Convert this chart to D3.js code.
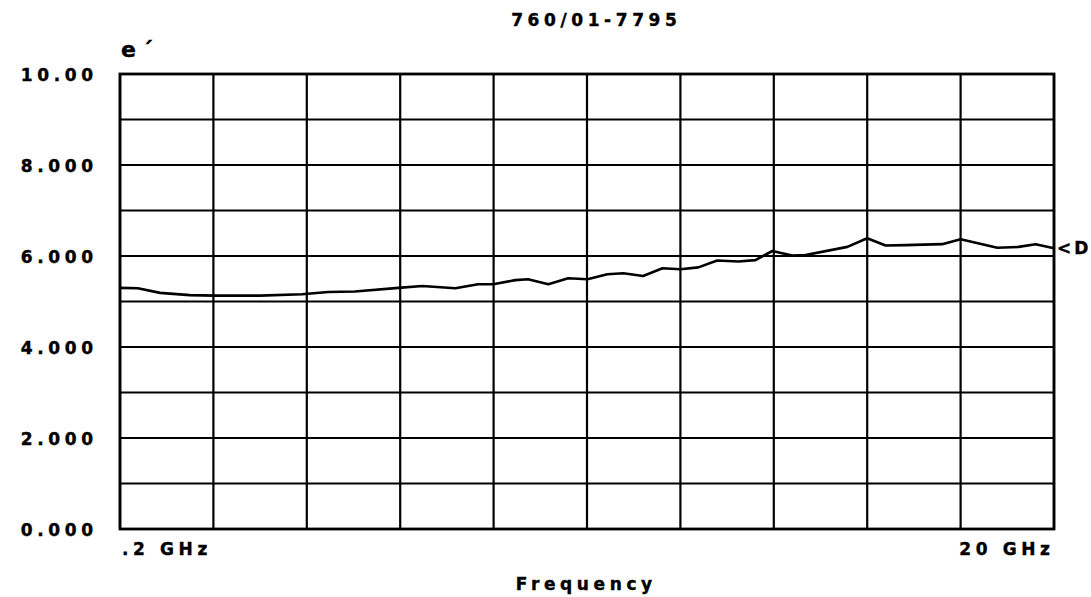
<!DOCTYPE html>
<html>
<head>
<meta charset="utf-8">
<script src="https://cdn.jsdelivr.net/npm/d3@7"></script>
<style>
  body { margin: 0; background: #fff; }
  svg text { font-family: "DejaVu Sans", sans-serif; font-weight: bold; fill: #000; stroke: #000; stroke-width: 0.4px; }
</style>
</head>
<body>
<svg id="chart" width="1091" height="597"></svg>
<script>
// measured trace, e' vs frequency (GHz)
const freqGHz = [0.2, 0.58, 1.05, 1.68, 2.21, 3.17, 4.06, 4.61, 5.18, 6.10, 6.61, 7.31, 7.79, 8.11,
  8.58, 8.85, 9.28, 9.70, 10.11, 10.53, 10.87, 11.29, 11.70, 12.08, 12.46, 12.86, 13.31, 13.67,
  14.03, 14.45, 14.73, 15.62, 16.04, 16.43, 16.85, 17.63, 18.02, 18.80, 19.25, 19.61, 20.0];
const ePrime = [5.30, 5.29, 5.19, 5.14, 5.13, 5.13, 5.16, 5.21, 5.22, 5.30, 5.34, 5.29, 5.38, 5.38,
  5.47, 5.49, 5.38, 5.51, 5.49, 5.60, 5.62, 5.56, 5.73, 5.71, 5.75, 5.90, 5.88, 5.91,
  6.11, 6.01, 6.02, 6.20, 6.39, 6.23, 6.24, 6.26, 6.37, 6.18, 6.20, 6.26, 6.17];
const yTickValues = [0, 2, 4, 6, 8, 10];
const yTickLabels = ["0.000", "2.000", "4.000", "6.000", "8.000", "10.00"];
const xLabels = [".2 GHz", "20 GHz"];
const title = "760/01-7795";
const xTitle = "Frequency";
const yTitle = "e\u00b4";
const markerLabel = "<D";

const svg = d3.select("#chart");
const plot = {left: 120, right: 1054, top: 74, bottom: 529};
const ls = 4.6; // letter spacing
const fs = 17;

let x = d3.scaleLinear().domain([0.2, 20]).range([plot.left, plot.right]);
let y = d3.scaleLinear().domain([0, 10]).range([plot.bottom, plot.top]);

// grid: 10 divisions each way
let gx = d3.range(11).map(i => 0.2 + i * (20 - 0.2) / 10);
let gy = d3.range(11);

svg.append("g").selectAll("line").data(gx).enter().append("line")
    .attr("x1", d => x(d)).attr("x2", d => x(d))
    .attr("y1", plot.top).attr("y2", plot.bottom)
    .style("stroke", "#000").style("stroke-width", "2.2px");

svg.append("g").selectAll("line").data(gy).enter().append("line")
    .attr("x1", plot.left).attr("x2", plot.right)
    .attr("y1", d => y(d)).attr("y2", d => y(d))
    .style("stroke", "#000").style("stroke-width", "2.2px");

svg.append("rect")
    .attr("x", plot.left).attr("y", plot.top)
    .attr("width", plot.right - plot.left).attr("height", plot.bottom - plot.top)
    .style("fill", "none").style("stroke", "#000").style("stroke-width", "2.8px");

function label(sel) {
    return sel.style("font-size", fs + "px").style("letter-spacing", ls + "px");
}

// y tick labels
label(svg.append("g").selectAll("text").data(yTickValues).enter().append("text")
    .attr("x", 93 + ls)
    .attr("y", d => y(d) + 6.5)
    .attr("text-anchor", "end"))
    .text((d, i) => yTickLabels[i]);

// x labels
label(svg.append("text").attr("x", 122).attr("y", 555)).text(xLabels[0]);
label(svg.append("text").attr("x", 1050 + ls).attr("y", 555)
    .attr("text-anchor", "end")).text(xLabels[1]);

// titles
label(svg.append("text").attr("x", 594 + ls / 2).attr("y", 26)
    .attr("text-anchor", "middle")).text(title);
label(svg.append("text").attr("x", 584 + ls / 2).attr("y", 590)
    .attr("text-anchor", "middle")).text(xTitle);
svg.append("text").attr("x", 121).attr("y", 57)
    .style("font-size", "22px").style("letter-spacing", "6px")
    .text(yTitle);

// data trace
let line = d3.line().x((d, i) => x(freqGHz[i])).y(d => y(d));
svg.append("path")
    .datum(ePrime)
    .attr("d", line)
    .style("fill", "none").style("stroke", "#000")
    .style("stroke-width", "2.6px").style("stroke-linejoin", "round");

// reference marker at trace end
svg.append("text")
    .attr("x", plot.right + 3)
    .attr("y", y(ePrime[ePrime.length - 1]) + 6)
    .style("font-size", "17px").style("letter-spacing", "3px")
    .text(markerLabel);
</script>
</body>
</html>
